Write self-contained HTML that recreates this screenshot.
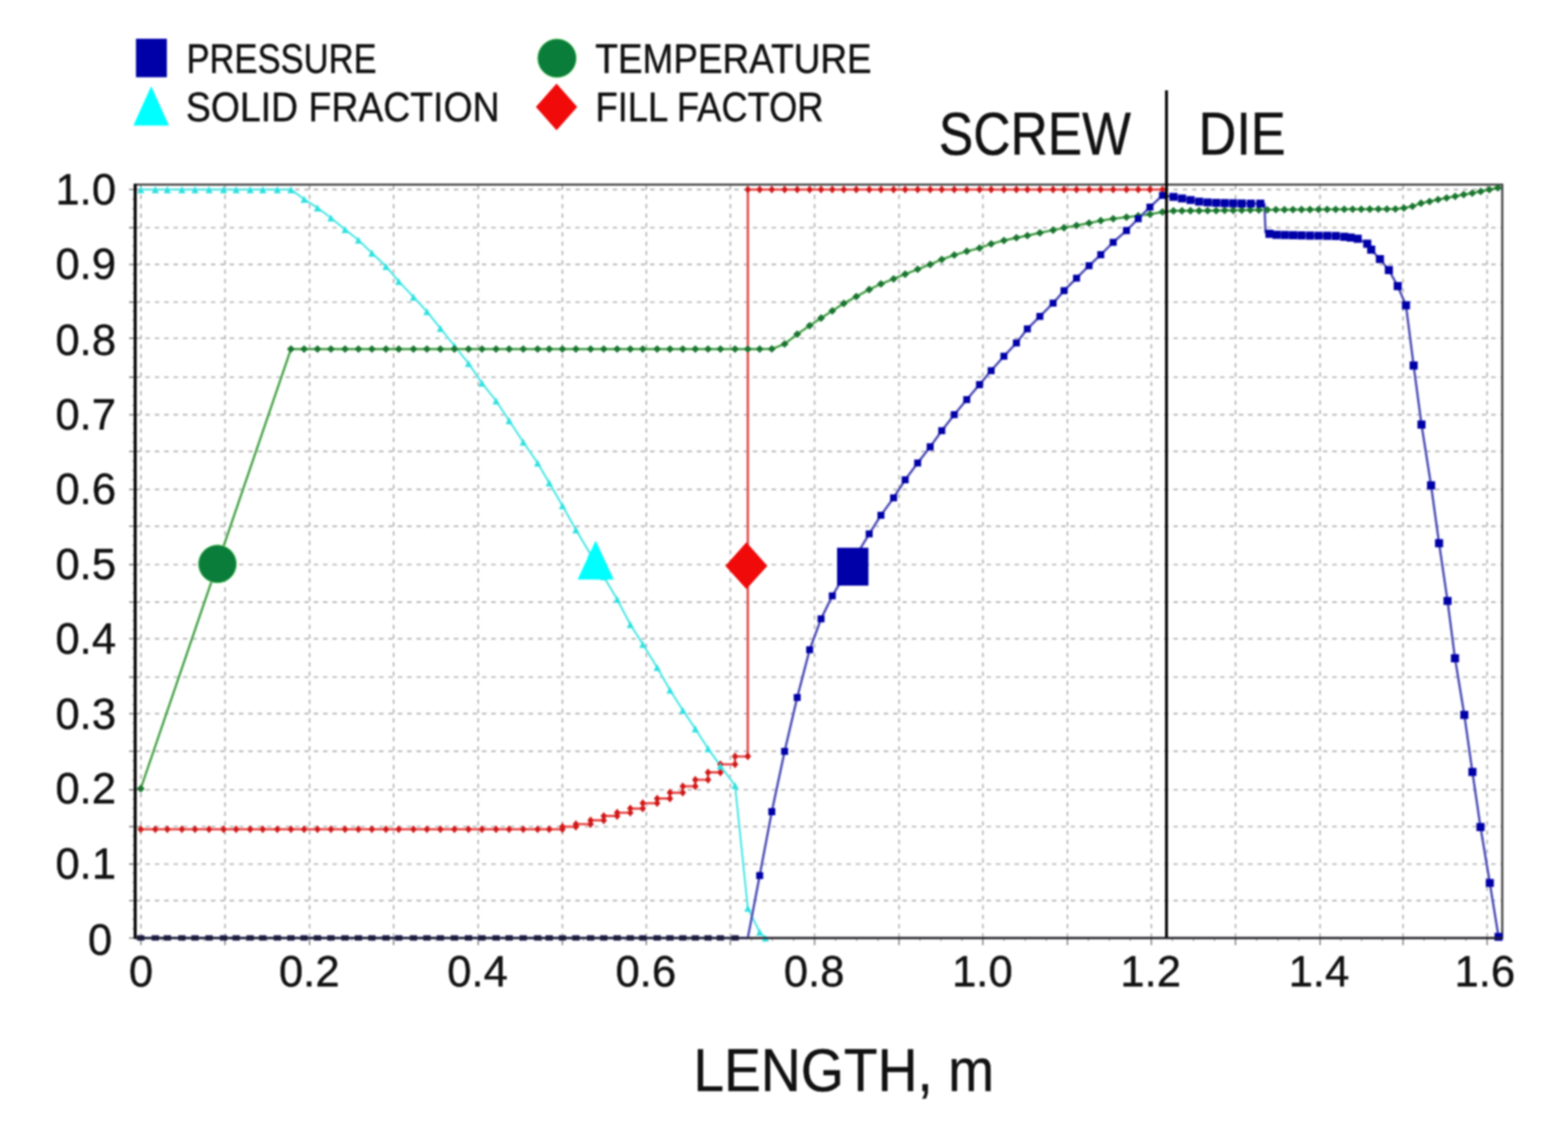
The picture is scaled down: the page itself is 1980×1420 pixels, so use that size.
<!DOCTYPE html><html><head><meta charset="utf-8"><style>html,body{margin:0;padding:0;background:#fff;}svg{display:block;filter:blur(1px);}text{font-family:"Liberation Sans",Arial,sans-serif;fill:#111;stroke:#111;stroke-width:0.5px;}</style></head><body>
<svg width="1980" height="1420" viewBox="0 0 1980 1420">
<rect x="0" y="0" width="1980" height="1420" fill="#fff"/>
<path d="M178.0 234V1183M284.2 234V1183M390.9 234V1183M497.1 234V1183M603.8 234V1183M710.2 234V1183M816.2 234V1183M922.3 234V1183M1028.6 234V1183M1135.3 234V1183M1241.2 234V1183M1347.9 234V1183M1453.8 234V1183M1560.2 234V1183M1666.9 234V1183M1771.7 234V1183M1877.8 234V1183M172 1136.7H1896M172 1090.6H1896M172 1043.4H1896M172 996.9H1896M172 948.2H1896M172 900.8H1896M172 854.6H1896M172 806.2H1896M172 760.0H1896M172 712.6H1896M172 664.2H1896M172 617.7H1896M172 569.7H1896M172 523.5H1896M172 476.1H1896M172 426.9H1896M172 381.4H1896M172 333.8H1896M172 287.4H1896M172 239.3H1896" stroke="#b0b0b0" stroke-width="1.9" stroke-dasharray="5.5 6.3" fill="none"/>
<path d="M163 1184.0H171M163 1136.7H171M163 1090.6H171M163 1043.4H171M163 996.9H171M163 948.2H171M163 900.8H171M163 854.6H171M163 806.2H171M163 760.0H171M163 712.6H171M163 664.2H171M163 617.7H171M163 569.7H171M163 523.5H171M163 476.1H171M163 426.9H171M163 381.4H171M163 333.8H171M163 287.4H171M163 239.3H171M178.0 1184V1193M284.2 1184V1193M390.9 1184V1193M497.1 1184V1193M603.8 1184V1193M710.2 1184V1193M816.2 1184V1193M922.3 1184V1193M1028.6 1184V1193M1135.3 1184V1193M1241.2 1184V1193M1347.9 1184V1193M1453.8 1184V1193M1560.2 1184V1193M1666.9 1184V1193M1771.7 1184V1193M1877.8 1184V1193" stroke="#777" stroke-width="1.6" fill="none"/>
<path d="M167 1172.2H171M167 1160.3H171M167 1148.5H171M167 1125.2H171M167 1113.7H171M167 1102.1H171M167 1078.8H171M167 1067.0H171M167 1055.2H171M167 1031.8H171M167 1020.2H171M167 1008.5H171M167 984.7H171M167 972.5H171M167 960.4H171M167 936.4H171M167 924.5H171M167 912.6H171M167 889.2H171M167 877.7H171M167 866.1H171M167 842.5H171M167 830.4H171M167 818.3H171M167 794.7H171M167 783.1H171M167 771.5H171M167 748.1H171M167 736.3H171M167 724.5H171M167 700.5H171M167 688.4H171M167 676.3H171M167 652.6H171M167 641.0H171M167 629.3H171M167 605.7H171M167 593.7H171M167 581.7H171M167 558.2H171M167 546.6H171M167 535.0H171M167 511.6H171M167 499.8H171M167 488.0H171M167 463.8H171M167 451.5H171M167 439.2H171M167 415.5H171M167 404.1H171M167 392.8H171M167 369.5H171M167 357.6H171M167 345.7H171M167 322.2H171M167 310.6H171M167 299.0H171M167 275.4H171M167 263.4H171M167 251.3H171M204.6 1184V1188M231.1 1184V1188M257.6 1184V1188M310.9 1184V1188M337.5 1184V1188M364.2 1184V1188M417.4 1184V1188M444.0 1184V1188M470.6 1184V1188M523.8 1184V1188M550.5 1184V1188M577.1 1184V1188M630.4 1184V1188M657.0 1184V1188M683.6 1184V1188M736.7 1184V1188M763.2 1184V1188M789.7 1184V1188M842.7 1184V1188M869.2 1184V1188M895.8 1184V1188M948.9 1184V1188M975.4 1184V1188M1002.0 1184V1188M1055.3 1184V1188M1081.9 1184V1188M1108.6 1184V1188M1161.8 1184V1188M1188.2 1184V1188M1214.7 1184V1188M1267.9 1184V1188M1294.6 1184V1188M1321.2 1184V1188M1374.4 1184V1188M1400.8 1184V1188M1427.3 1184V1188M1480.4 1184V1188M1507.0 1184V1188M1533.6 1184V1188M1586.9 1184V1188M1613.6 1184V1188M1640.2 1184V1188M1693.1 1184V1188M1719.3 1184V1188M1745.5 1184V1188M1798.2 1184V1188M1824.8 1184V1188M1851.3 1184V1188" stroke="#999" stroke-width="1.2" fill="none"/>
<path d="M170 233H1897V1184H170Z" stroke="#3a3a3a" stroke-width="2.6" fill="none"/>
<path d="M170.8 232V1185" stroke="#000" stroke-width="3.6" fill="none"/>
<defs><clipPath id="pc"><rect x="171" y="233" width="1726" height="951.2"/></clipPath></defs>
<g>
<polyline points="177.7,1046.7 196.1,1046.7 211.3,1046.7 229.7,1046.7 246.2,1046.7 264.0,1046.7 282.3,1046.7 298.2,1046.7 315.9,1046.7 331.8,1046.7 350.2,1046.7 367.4,1046.7 384.0,1046.7 400.9,1046.7 417.9,1046.7 435.7,1046.7 452.6,1046.7 469.6,1046.7 487.4,1046.7 503.5,1046.7 522.1,1046.7 539.1,1046.7 556.1,1046.7 573.8,1046.7 591.6,1046.7 608.6,1046.7 626.4,1046.7 642.9,1046.7 660.7,1046.7 678.9,1046.7 693.5,1046.7 710.2,1046.7 710.2,1043.5 727.2,1043.5 727.2,1040.3 745.8,1040.3 745.8,1035.4 762.4,1035.4 762.4,1029.9 779.3,1029.9 779.3,1025.8 795.9,1025.8 795.9,1020.6 811.7,1020.6 811.7,1013.8 829.8,1013.8 829.8,1007.9 846.0,1007.9 846.0,1000.6 862.2,1000.6 862.2,992.5 878.0,992.5 878.0,984.3 894.1,984.3 894.1,974.9 909.7,974.9 909.7,964.7 928.2,964.7 928.2,954.8 944.3,954.8 944.3,954.6 944.4,239.3 944.3,239.3 959.3,239.3 974.6,239.3 990.8,239.3 1006.7,239.3 1022.4,239.3 1036.8,239.3 1051.0,239.3 1065.5,239.3 1081.3,239.3 1097.6,239.3 1112.4,239.3 1128.4,239.3 1143.0,239.3 1158.8,239.3 1174.6,239.3 1189.2,239.3 1205.0,239.3 1220.8,239.3 1236.9,239.3 1251.6,239.3 1267.7,239.3 1283.5,239.3 1297.3,239.3 1313.1,239.3 1329.8,239.3 1343.6,239.3 1359.4,239.3 1375.2,239.3 1390.0,239.3 1405.7,239.3 1422.5,239.3 1437.3,239.3 1452.1,239.3 1467.9,239.3" fill="none" stroke="#ff9a9a" stroke-width="3.8" stroke-linejoin="round" opacity="0.8"/>
<polyline points="177.7,1046.7 196.1,1046.7 211.3,1046.7 229.7,1046.7 246.2,1046.7 264.0,1046.7 282.3,1046.7 298.2,1046.7 315.9,1046.7 331.8,1046.7 350.2,1046.7 367.4,1046.7 384.0,1046.7 400.9,1046.7 417.9,1046.7 435.7,1046.7 452.6,1046.7 469.6,1046.7 487.4,1046.7 503.5,1046.7 522.1,1046.7 539.1,1046.7 556.1,1046.7 573.8,1046.7 591.6,1046.7 608.6,1046.7 626.4,1046.7 642.9,1046.7 660.7,1046.7 678.9,1046.7 693.5,1046.7 710.2,1046.7 710.2,1043.5 727.2,1043.5 727.2,1040.3 745.8,1040.3 745.8,1035.4 762.4,1035.4 762.4,1029.9 779.3,1029.9 779.3,1025.8 795.9,1025.8 795.9,1020.6 811.7,1020.6 811.7,1013.8 829.8,1013.8 829.8,1007.9 846.0,1007.9 846.0,1000.6 862.2,1000.6 862.2,992.5 878.0,992.5 878.0,984.3 894.1,984.3 894.1,974.9 909.7,974.9 909.7,964.7 928.2,964.7 928.2,954.8 944.3,954.8 944.3,954.6 944.4,239.3 944.3,239.3 959.3,239.3 974.6,239.3 990.8,239.3 1006.7,239.3 1022.4,239.3 1036.8,239.3 1051.0,239.3 1065.5,239.3 1081.3,239.3 1097.6,239.3 1112.4,239.3 1128.4,239.3 1143.0,239.3 1158.8,239.3 1174.6,239.3 1189.2,239.3 1205.0,239.3 1220.8,239.3 1236.9,239.3 1251.6,239.3 1267.7,239.3 1283.5,239.3 1297.3,239.3 1313.1,239.3 1329.8,239.3 1343.6,239.3 1359.4,239.3 1375.2,239.3 1390.0,239.3 1405.7,239.3 1422.5,239.3 1437.3,239.3 1452.1,239.3 1467.9,239.3" fill="none" stroke="#d81818" stroke-width="1.6" stroke-linejoin="round"/>
<polyline points="177.7,239.3 196.1,239.3 211.3,239.3 229.7,239.3 246.2,239.3 264.0,239.3 282.3,239.3 298.2,239.3 315.9,239.3 331.8,239.3 350.2,239.3 367.4,239.3 384.0,251.3 400.9,262.3 417.9,275.0 435.7,289.6 452.6,303.0 469.6,319.3 487.4,336.1 503.5,355.2 522.1,374.8 539.1,393.2 556.1,414.4 573.8,436.4 591.6,458.6 608.6,483.5 626.4,505.9 642.9,530.8 660.7,557.8 678.9,584.4 693.5,609.3 710.2,638.2 727.2,668.6 745.8,699.9 762.4,727.8 779.3,756.4 795.9,788.2 811.7,813.1 829.8,842.4 846.0,870.9 862.2,896.4 878.0,919.8 894.1,944.8 909.7,966.7 928.2,991.4 944.3,1146.2 959.3,1176.5 966.5,1183.9" fill="none" stroke="#b8ffff" stroke-width="3.7" stroke-linejoin="round" opacity="0.8"/>
<polyline points="177.7,239.3 196.1,239.3 211.3,239.3 229.7,239.3 246.2,239.3 264.0,239.3 282.3,239.3 298.2,239.3 315.9,239.3 331.8,239.3 350.2,239.3 367.4,239.3 384.0,251.3 400.9,262.3 417.9,275.0 435.7,289.6 452.6,303.0 469.6,319.3 487.4,336.1 503.5,355.2 522.1,374.8 539.1,393.2 556.1,414.4 573.8,436.4 591.6,458.6 608.6,483.5 626.4,505.9 642.9,530.8 660.7,557.8 678.9,584.4 693.5,609.3 710.2,638.2 727.2,668.6 745.8,699.9 762.4,727.8 779.3,756.4 795.9,788.2 811.7,813.1 829.8,842.4 846.0,870.9 862.2,896.4 878.0,919.8 894.1,944.8 909.7,966.7 928.2,991.4 944.3,1146.2 959.3,1176.5 966.5,1183.9" fill="none" stroke="#2ad8d8" stroke-width="1.5" stroke-linejoin="round"/>
<polyline points="177.7,995.5 367.4,440.6 384.0,440.6 400.9,440.6 417.9,440.6 435.7,440.6 452.6,440.6 469.6,440.6 487.4,440.6 503.5,440.6 522.1,440.6 539.1,440.6 556.1,440.6 573.8,440.6 591.6,440.6 608.6,440.6 626.4,440.6 642.9,440.6 660.7,440.6 678.9,440.6 693.5,440.6 710.2,440.6 727.2,440.6 745.8,440.6 762.4,440.6 779.3,440.6 795.9,440.6 811.7,440.6 829.8,440.6 846.0,440.6 862.2,440.6 878.0,440.6 894.1,440.6 909.7,440.6 928.2,440.6 944.3,440.6 959.3,440.6 974.6,440.4 990.8,434.2 1006.7,421.8 1022.4,411.1 1036.8,401.5 1051.0,392.3 1065.5,383.0 1081.3,374.3 1097.6,365.5 1112.4,358.4 1128.4,352.1 1143.0,346.0 1158.8,339.9 1174.6,333.8 1189.2,327.6 1205.0,321.9 1220.8,317.2 1236.9,313.2 1251.6,307.8 1267.7,303.6 1283.5,300.1 1297.3,297.4 1313.1,293.9 1329.8,290.5 1343.6,287.5 1359.4,284.6 1375.2,281.6 1390.0,278.5 1405.7,276.1 1422.5,274.1 1437.3,272.5 1452.1,270.4 1467.9,267.6 1481.8,266.2 1492.5,266.1 1503.3,266.0 1514.1,266.0 1524.9,265.9 1535.7,265.8 1546.4,265.6 1557.2,265.5 1568.0,265.3 1578.8,265.1 1589.6,265.0 1600.3,264.8 1611.1,264.7 1621.9,264.7 1632.7,264.6 1643.5,264.5 1654.2,264.5 1665.0,264.4 1675.8,264.3 1686.6,264.3 1697.4,264.2 1708.1,264.1 1718.9,264.1 1729.7,264.0 1740.5,263.9 1751.3,263.9 1762.0,263.8 1772.8,262.6 1783.6,260.4 1794.4,256.5 1805.2,254.3 1815.9,251.9 1826.7,249.8 1837.5,247.8 1848.3,245.6 1859.1,243.8 1869.8,241.7 1880.6,239.4 1891.4,237.1" fill="none" stroke="#8fe08f" stroke-width="3.8" stroke-linejoin="round" opacity="0.8"/>
<polyline points="177.7,995.5 367.4,440.6 384.0,440.6 400.9,440.6 417.9,440.6 435.7,440.6 452.6,440.6 469.6,440.6 487.4,440.6 503.5,440.6 522.1,440.6 539.1,440.6 556.1,440.6 573.8,440.6 591.6,440.6 608.6,440.6 626.4,440.6 642.9,440.6 660.7,440.6 678.9,440.6 693.5,440.6 710.2,440.6 727.2,440.6 745.8,440.6 762.4,440.6 779.3,440.6 795.9,440.6 811.7,440.6 829.8,440.6 846.0,440.6 862.2,440.6 878.0,440.6 894.1,440.6 909.7,440.6 928.2,440.6 944.3,440.6 959.3,440.6 974.6,440.4 990.8,434.2 1006.7,421.8 1022.4,411.1 1036.8,401.5 1051.0,392.3 1065.5,383.0 1081.3,374.3 1097.6,365.5 1112.4,358.4 1128.4,352.1 1143.0,346.0 1158.8,339.9 1174.6,333.8 1189.2,327.6 1205.0,321.9 1220.8,317.2 1236.9,313.2 1251.6,307.8 1267.7,303.6 1283.5,300.1 1297.3,297.4 1313.1,293.9 1329.8,290.5 1343.6,287.5 1359.4,284.6 1375.2,281.6 1390.0,278.5 1405.7,276.1 1422.5,274.1 1437.3,272.5 1452.1,270.4 1467.9,267.6 1481.8,266.2 1492.5,266.1 1503.3,266.0 1514.1,266.0 1524.9,265.9 1535.7,265.8 1546.4,265.6 1557.2,265.5 1568.0,265.3 1578.8,265.1 1589.6,265.0 1600.3,264.8 1611.1,264.7 1621.9,264.7 1632.7,264.6 1643.5,264.5 1654.2,264.5 1665.0,264.4 1675.8,264.3 1686.6,264.3 1697.4,264.2 1708.1,264.1 1718.9,264.1 1729.7,264.0 1740.5,263.9 1751.3,263.9 1762.0,263.8 1772.8,262.6 1783.6,260.4 1794.4,256.5 1805.2,254.3 1815.9,251.9 1826.7,249.8 1837.5,247.8 1848.3,245.6 1859.1,243.8 1869.8,241.7 1880.6,239.4 1891.4,237.1" fill="none" stroke="#2e7d32" stroke-width="1.6" stroke-linejoin="round"/>
<polyline points="177.7,1183.9 196.1,1183.9 211.3,1183.9 229.7,1183.9 246.2,1183.9 264.0,1183.9 282.3,1183.9 298.2,1183.9 315.9,1183.9 331.8,1183.9 350.2,1183.9 367.4,1183.9 384.0,1183.9 400.9,1183.9 417.9,1183.9 435.7,1183.9 452.6,1183.9 469.6,1183.9 487.4,1183.9 503.5,1183.9 522.1,1183.9 539.1,1183.9 556.1,1183.9 573.8,1183.9 591.6,1183.9 608.6,1183.9 626.4,1183.9 642.9,1183.9 660.7,1183.9 678.9,1183.9 693.5,1183.9 710.2,1183.9 727.2,1183.9 745.8,1183.9 762.4,1183.9 779.3,1183.9 795.9,1183.9 811.7,1183.9 829.8,1183.9 846.0,1183.9 862.2,1183.9 878.0,1183.9 894.1,1183.9 909.7,1183.9 928.2,1183.9 944.3,1183.9 959.3,1105.2 974.6,1024.5 990.8,948.3 1006.7,880.3 1022.4,820.1 1036.8,781.2 1051.0,752.2 1065.5,727.6 1081.3,700.9 1097.6,673.9 1112.4,650.4 1128.4,628.3 1143.0,605.7 1158.8,584.3 1174.6,564.0 1189.2,543.7 1205.0,523.4 1220.8,504.3 1236.9,485.5 1251.6,467.8 1267.7,449.7 1283.5,432.9 1297.3,415.2 1313.1,399.4 1329.8,382.7 1343.6,366.9 1359.4,351.1 1375.2,335.3 1390.0,321.5 1405.7,305.8 1422.5,291.0 1437.3,276.2 1452.1,261.4 1467.9,246.6 1481.8,248.5 1492.6,250.5 1503.4,252.5 1514.2,254.5 1524.9,255.5 1535.7,256.0 1546.5,256.3 1557.3,256.6 1568.1,256.8 1579.5,257.0 1591.5,257.0 1596.8,257.5 1598.0,293.5 1603.0,295.2 1612.0,296.3 1622.5,296.6 1633.0,296.9 1643.5,297.2 1654.3,297.4 1665.1,297.5 1675.9,297.6 1686.7,297.8 1697.5,298.8 1705.5,299.8 1714.5,301.4 1726.5,307.6 1731.5,315.2 1742.5,327.0 1753.8,340.9 1765.0,361.2 1775.4,385.4 1785.1,461.4 1795.0,535.8 1807.1,612.6 1817.2,685.7 1827.9,758.5 1837.3,830.8 1849.1,902.4 1859.3,974.4 1869.5,1043.9 1881.3,1114.5 1892.3,1182.5" fill="none" stroke="#9a9af0" stroke-width="3.8" stroke-linejoin="round" opacity="0.8"/>
<polyline points="177.7,1183.9 196.1,1183.9 211.3,1183.9 229.7,1183.9 246.2,1183.9 264.0,1183.9 282.3,1183.9 298.2,1183.9 315.9,1183.9 331.8,1183.9 350.2,1183.9 367.4,1183.9 384.0,1183.9 400.9,1183.9 417.9,1183.9 435.7,1183.9 452.6,1183.9 469.6,1183.9 487.4,1183.9 503.5,1183.9 522.1,1183.9 539.1,1183.9 556.1,1183.9 573.8,1183.9 591.6,1183.9 608.6,1183.9 626.4,1183.9 642.9,1183.9 660.7,1183.9 678.9,1183.9 693.5,1183.9 710.2,1183.9 727.2,1183.9 745.8,1183.9 762.4,1183.9 779.3,1183.9 795.9,1183.9 811.7,1183.9 829.8,1183.9 846.0,1183.9 862.2,1183.9 878.0,1183.9 894.1,1183.9 909.7,1183.9 928.2,1183.9 944.3,1183.9 959.3,1105.2 974.6,1024.5 990.8,948.3 1006.7,880.3 1022.4,820.1 1036.8,781.2 1051.0,752.2 1065.5,727.6 1081.3,700.9 1097.6,673.9 1112.4,650.4 1128.4,628.3 1143.0,605.7 1158.8,584.3 1174.6,564.0 1189.2,543.7 1205.0,523.4 1220.8,504.3 1236.9,485.5 1251.6,467.8 1267.7,449.7 1283.5,432.9 1297.3,415.2 1313.1,399.4 1329.8,382.7 1343.6,366.9 1359.4,351.1 1375.2,335.3 1390.0,321.5 1405.7,305.8 1422.5,291.0 1437.3,276.2 1452.1,261.4 1467.9,246.6 1481.8,248.5 1492.6,250.5 1503.4,252.5 1514.2,254.5 1524.9,255.5 1535.7,256.0 1546.5,256.3 1557.3,256.6 1568.1,256.8 1579.5,257.0 1591.5,257.0 1596.8,257.5 1598.0,293.5 1603.0,295.2 1612.0,296.3 1622.5,296.6 1633.0,296.9 1643.5,297.2 1654.3,297.4 1665.1,297.5 1675.9,297.6 1686.7,297.8 1697.5,298.8 1705.5,299.8 1714.5,301.4 1726.5,307.6 1731.5,315.2 1742.5,327.0 1753.8,340.9 1765.0,361.2 1775.4,385.4 1785.1,461.4 1795.0,535.8 1807.1,612.6 1817.2,685.7 1827.9,758.5 1837.3,830.8 1849.1,902.4 1859.3,974.4 1869.5,1043.9 1881.3,1114.5 1892.3,1182.5" fill="none" stroke="#24248c" stroke-width="1.6" stroke-linejoin="round"/>
<path d="M177.7 1041.7L181.8 1046.7L177.7 1051.7L173.6 1046.7ZM196.1 1041.7L200.2 1046.7L196.1 1051.7L192.0 1046.7ZM211.3 1041.7L215.4 1046.7L211.3 1051.7L207.2 1046.7ZM229.7 1041.7L233.8 1046.7L229.7 1051.7L225.6 1046.7ZM246.2 1041.7L250.3 1046.7L246.2 1051.7L242.1 1046.7ZM264.0 1041.7L268.1 1046.7L264.0 1051.7L259.9 1046.7ZM282.3 1041.7L286.4 1046.7L282.3 1051.7L278.2 1046.7ZM298.2 1041.7L302.3 1046.7L298.2 1051.7L294.1 1046.7ZM315.9 1041.7L320.0 1046.7L315.9 1051.7L311.8 1046.7ZM331.8 1041.7L335.9 1046.7L331.8 1051.7L327.7 1046.7ZM350.2 1041.7L354.3 1046.7L350.2 1051.7L346.1 1046.7ZM367.4 1041.7L371.5 1046.7L367.4 1051.7L363.3 1046.7ZM384.0 1041.7L388.1 1046.7L384.0 1051.7L379.9 1046.7ZM400.9 1041.7L405.0 1046.7L400.9 1051.7L396.8 1046.7ZM417.9 1041.7L422.0 1046.7L417.9 1051.7L413.8 1046.7ZM435.7 1041.7L439.8 1046.7L435.7 1051.7L431.6 1046.7ZM452.6 1041.7L456.7 1046.7L452.6 1051.7L448.5 1046.7ZM469.6 1041.7L473.7 1046.7L469.6 1051.7L465.5 1046.7ZM487.4 1041.7L491.5 1046.7L487.4 1051.7L483.3 1046.7ZM503.5 1041.7L507.6 1046.7L503.5 1051.7L499.4 1046.7ZM522.1 1041.7L526.2 1046.7L522.1 1051.7L518.0 1046.7ZM539.1 1041.7L543.2 1046.7L539.1 1051.7L535.0 1046.7ZM556.1 1041.7L560.2 1046.7L556.1 1051.7L552.0 1046.7ZM573.8 1041.7L577.9 1046.7L573.8 1051.7L569.7 1046.7ZM591.6 1041.7L595.7 1046.7L591.6 1051.7L587.5 1046.7ZM608.6 1041.7L612.7 1046.7L608.6 1051.7L604.5 1046.7ZM626.4 1041.7L630.5 1046.7L626.4 1051.7L622.3 1046.7ZM642.9 1041.7L647.0 1046.7L642.9 1051.7L638.8 1046.7ZM660.7 1041.7L664.8 1046.7L660.7 1051.7L656.6 1046.7ZM678.9 1041.7L683.0 1046.7L678.9 1051.7L674.8 1046.7ZM693.5 1041.7L697.6 1046.7L693.5 1051.7L689.4 1046.7ZM710.2 1041.7L714.3 1046.7L710.2 1051.7L706.1 1046.7ZM710.2 1038.5L714.3 1043.5L710.2 1048.5L706.1 1043.5ZM727.2 1038.5L731.3 1043.5L727.2 1048.5L723.1 1043.5ZM727.2 1035.3L731.3 1040.3L727.2 1045.3L723.1 1040.3ZM745.8 1035.3L749.9 1040.3L745.8 1045.3L741.7 1040.3ZM745.8 1030.4L749.9 1035.4L745.8 1040.4L741.7 1035.4ZM762.4 1030.4L766.5 1035.4L762.4 1040.4L758.3 1035.4ZM762.4 1024.9L766.5 1029.9L762.4 1034.9L758.3 1029.9ZM779.3 1024.9L783.4 1029.9L779.3 1034.9L775.2 1029.9ZM779.3 1020.8L783.4 1025.8L779.3 1030.8L775.2 1025.8ZM795.9 1020.8L800.0 1025.8L795.9 1030.8L791.8 1025.8ZM795.9 1015.6L800.0 1020.6L795.9 1025.6L791.8 1020.6ZM811.7 1015.6L815.8 1020.6L811.7 1025.6L807.6 1020.6ZM811.7 1008.8L815.8 1013.8L811.7 1018.8L807.6 1013.8ZM829.8 1008.8L833.9 1013.8L829.8 1018.8L825.7 1013.8ZM829.8 1002.9L833.9 1007.9L829.8 1012.9L825.7 1007.9ZM846.0 1002.9L850.1 1007.9L846.0 1012.9L841.9 1007.9ZM846.0 995.6L850.1 1000.6L846.0 1005.6L841.9 1000.6ZM862.2 995.6L866.3 1000.6L862.2 1005.6L858.1 1000.6ZM862.2 987.5L866.3 992.5L862.2 997.5L858.1 992.5ZM878.0 987.5L882.1 992.5L878.0 997.5L873.9 992.5ZM878.0 979.3L882.1 984.3L878.0 989.3L873.9 984.3ZM894.1 979.3L898.2 984.3L894.1 989.3L890.0 984.3ZM894.1 969.9L898.2 974.9L894.1 979.9L890.0 974.9ZM909.7 969.9L913.8 974.9L909.7 979.9L905.6 974.9ZM909.7 959.7L913.8 964.7L909.7 969.7L905.6 964.7ZM928.2 959.7L932.3 964.7L928.2 969.7L924.1 964.7ZM928.2 949.8L932.3 954.8L928.2 959.8L924.1 954.8ZM944.3 949.8L948.4 954.8L944.3 959.8L940.2 954.8ZM944.3 949.6L948.4 954.6L944.3 959.6L940.2 954.6ZM944.3 234.3L948.4 239.3L944.3 244.3L940.2 239.3ZM959.3 234.3L963.4 239.3L959.3 244.3L955.2 239.3ZM974.6 234.3L978.7 239.3L974.6 244.3L970.5 239.3ZM990.8 234.3L994.9 239.3L990.8 244.3L986.7 239.3ZM1006.7 234.3L1010.8 239.3L1006.7 244.3L1002.6 239.3ZM1022.4 234.3L1026.5 239.3L1022.4 244.3L1018.3 239.3ZM1036.8 234.3L1040.9 239.3L1036.8 244.3L1032.7 239.3ZM1051.0 234.3L1055.1 239.3L1051.0 244.3L1046.9 239.3ZM1065.5 234.3L1069.6 239.3L1065.5 244.3L1061.4 239.3ZM1081.3 234.3L1085.4 239.3L1081.3 244.3L1077.2 239.3ZM1097.6 234.3L1101.7 239.3L1097.6 244.3L1093.5 239.3ZM1112.4 234.3L1116.5 239.3L1112.4 244.3L1108.3 239.3ZM1128.4 234.3L1132.5 239.3L1128.4 244.3L1124.3 239.3ZM1143.0 234.3L1147.1 239.3L1143.0 244.3L1138.9 239.3ZM1158.8 234.3L1162.9 239.3L1158.8 244.3L1154.7 239.3ZM1174.6 234.3L1178.7 239.3L1174.6 244.3L1170.5 239.3ZM1189.2 234.3L1193.3 239.3L1189.2 244.3L1185.1 239.3ZM1205.0 234.3L1209.1 239.3L1205.0 244.3L1200.9 239.3ZM1220.8 234.3L1224.9 239.3L1220.8 244.3L1216.7 239.3ZM1236.9 234.3L1241.0 239.3L1236.9 244.3L1232.8 239.3ZM1251.6 234.3L1255.7 239.3L1251.6 244.3L1247.5 239.3ZM1267.7 234.3L1271.8 239.3L1267.7 244.3L1263.6 239.3ZM1283.5 234.3L1287.6 239.3L1283.5 244.3L1279.4 239.3ZM1297.3 234.3L1301.4 239.3L1297.3 244.3L1293.2 239.3ZM1313.1 234.3L1317.2 239.3L1313.1 244.3L1309.0 239.3ZM1329.8 234.3L1333.9 239.3L1329.8 244.3L1325.7 239.3ZM1343.6 234.3L1347.7 239.3L1343.6 244.3L1339.5 239.3ZM1359.4 234.3L1363.5 239.3L1359.4 244.3L1355.3 239.3ZM1375.2 234.3L1379.3 239.3L1375.2 244.3L1371.1 239.3ZM1390.0 234.3L1394.1 239.3L1390.0 244.3L1385.9 239.3ZM1405.7 234.3L1409.8 239.3L1405.7 244.3L1401.6 239.3ZM1422.5 234.3L1426.6 239.3L1422.5 244.3L1418.4 239.3ZM1437.3 234.3L1441.4 239.3L1437.3 244.3L1433.2 239.3ZM1452.1 234.3L1456.2 239.3L1452.1 244.3L1448.0 239.3ZM1467.9 234.3L1472.0 239.3L1467.9 244.3L1463.8 239.3Z" fill="#d01818"/>
<path d="M177.7 235.1L182.2 243.9L173.2 243.9ZM196.1 235.1L200.6 243.9L191.6 243.9ZM211.3 235.1L215.8 243.9L206.8 243.9ZM229.7 235.1L234.2 243.9L225.2 243.9ZM246.2 235.1L250.7 243.9L241.7 243.9ZM264.0 235.1L268.5 243.9L259.5 243.9ZM282.3 235.1L286.8 243.9L277.8 243.9ZM298.2 235.1L302.7 243.9L293.7 243.9ZM315.9 235.1L320.4 243.9L311.4 243.9ZM331.8 235.1L336.3 243.9L327.3 243.9ZM350.2 235.1L354.7 243.9L345.7 243.9ZM367.4 235.1L371.9 243.9L362.9 243.9ZM384.0 247.1L388.5 255.9L379.5 255.9ZM400.9 258.1L405.4 266.9L396.4 266.9ZM417.9 270.8L422.4 279.6L413.4 279.6ZM435.7 285.4L440.2 294.2L431.2 294.2ZM452.6 298.8L457.1 307.6L448.1 307.6ZM469.6 315.1L474.1 323.9L465.1 323.9ZM487.4 331.9L491.9 340.7L482.9 340.7ZM503.5 351.0L508.0 359.8L499.0 359.8ZM522.1 370.6L526.6 379.4L517.6 379.4ZM539.1 389.0L543.6 397.8L534.6 397.8ZM556.1 410.2L560.6 419.0L551.6 419.0ZM573.8 432.2L578.3 441.0L569.3 441.0ZM591.6 454.4L596.1 463.2L587.1 463.2ZM608.6 479.3L613.1 488.1L604.1 488.1ZM626.4 501.7L630.9 510.5L621.9 510.5ZM642.9 526.6L647.4 535.4L638.4 535.4ZM660.7 553.6L665.2 562.4L656.2 562.4ZM678.9 580.2L683.4 589.0L674.4 589.0ZM693.5 605.1L698.0 613.9L689.0 613.9ZM710.2 634.0L714.7 642.8L705.7 642.8ZM727.2 664.4L731.7 673.2L722.7 673.2ZM745.8 695.7L750.3 704.5L741.3 704.5ZM762.4 723.6L766.9 732.4L757.9 732.4ZM779.3 752.2L783.8 761.0L774.8 761.0ZM795.9 784.0L800.4 792.8L791.4 792.8ZM811.7 808.9L816.2 817.7L807.2 817.7ZM829.8 838.2L834.3 847.0L825.3 847.0ZM846.0 866.7L850.5 875.5L841.5 875.5ZM862.2 892.2L866.7 901.0L857.7 901.0ZM878.0 915.6L882.5 924.4L873.5 924.4ZM894.1 940.6L898.6 949.4L889.6 949.4ZM909.7 962.5L914.2 971.3L905.2 971.3ZM928.2 987.2L932.7 996.0L923.7 996.0ZM944.3 1142.0L948.8 1150.8L939.8 1150.8ZM959.3 1172.3L963.8 1181.1L954.8 1181.1ZM966.5 1179.7L971.0 1188.5L962.0 1188.5Z" fill="#30e0e0"/>
<path d="M177.7 990.6L182.7 995.5L177.7 1000.4L172.7 995.5ZM367.4 435.7L372.4 440.6L367.4 445.5L362.4 440.6ZM384.0 435.7L389.0 440.6L384.0 445.5L379.0 440.6ZM400.9 435.7L405.9 440.6L400.9 445.5L395.9 440.6ZM417.9 435.7L422.9 440.6L417.9 445.5L412.9 440.6ZM435.7 435.7L440.7 440.6L435.7 445.5L430.7 440.6ZM452.6 435.7L457.6 440.6L452.6 445.5L447.6 440.6ZM469.6 435.7L474.6 440.6L469.6 445.5L464.6 440.6ZM487.4 435.7L492.4 440.6L487.4 445.5L482.4 440.6ZM503.5 435.7L508.5 440.6L503.5 445.5L498.5 440.6ZM522.1 435.7L527.1 440.6L522.1 445.5L517.1 440.6ZM539.1 435.7L544.1 440.6L539.1 445.5L534.1 440.6ZM556.1 435.7L561.1 440.6L556.1 445.5L551.1 440.6ZM573.8 435.7L578.8 440.6L573.8 445.5L568.8 440.6ZM591.6 435.7L596.6 440.6L591.6 445.5L586.6 440.6ZM608.6 435.7L613.6 440.6L608.6 445.5L603.6 440.6ZM626.4 435.7L631.4 440.6L626.4 445.5L621.4 440.6ZM642.9 435.7L647.9 440.6L642.9 445.5L637.9 440.6ZM660.7 435.7L665.7 440.6L660.7 445.5L655.7 440.6ZM678.9 435.7L683.9 440.6L678.9 445.5L673.9 440.6ZM693.5 435.7L698.5 440.6L693.5 445.5L688.5 440.6ZM710.2 435.7L715.2 440.6L710.2 445.5L705.2 440.6ZM727.2 435.7L732.2 440.6L727.2 445.5L722.2 440.6ZM745.8 435.7L750.8 440.6L745.8 445.5L740.8 440.6ZM762.4 435.7L767.4 440.6L762.4 445.5L757.4 440.6ZM779.3 435.7L784.3 440.6L779.3 445.5L774.3 440.6ZM795.9 435.7L800.9 440.6L795.9 445.5L790.9 440.6ZM811.7 435.7L816.7 440.6L811.7 445.5L806.7 440.6ZM829.8 435.7L834.8 440.6L829.8 445.5L824.8 440.6ZM846.0 435.7L851.0 440.6L846.0 445.5L841.0 440.6ZM862.2 435.7L867.2 440.6L862.2 445.5L857.2 440.6ZM878.0 435.7L883.0 440.6L878.0 445.5L873.0 440.6ZM894.1 435.7L899.1 440.6L894.1 445.5L889.1 440.6ZM909.7 435.7L914.7 440.6L909.7 445.5L904.7 440.6ZM928.2 435.7L933.2 440.6L928.2 445.5L923.2 440.6ZM944.3 435.7L949.3 440.6L944.3 445.5L939.3 440.6ZM959.3 435.7L964.3 440.6L959.3 445.5L954.3 440.6ZM974.6 435.5L979.6 440.4L974.6 445.3L969.6 440.4ZM990.8 429.3L995.8 434.2L990.8 439.1L985.8 434.2ZM1006.7 416.9L1011.7 421.8L1006.7 426.7L1001.7 421.8ZM1022.4 406.2L1027.4 411.1L1022.4 416.0L1017.4 411.1ZM1036.8 396.6L1041.8 401.5L1036.8 406.4L1031.8 401.5ZM1051.0 387.4L1056.0 392.3L1051.0 397.2L1046.0 392.3ZM1065.5 378.1L1070.5 383.0L1065.5 387.9L1060.5 383.0ZM1081.3 369.4L1086.3 374.3L1081.3 379.2L1076.3 374.3ZM1097.6 360.6L1102.6 365.5L1097.6 370.4L1092.6 365.5ZM1112.4 353.5L1117.4 358.4L1112.4 363.3L1107.4 358.4ZM1128.4 347.2L1133.4 352.1L1128.4 357.0L1123.4 352.1ZM1143.0 341.1L1148.0 346.0L1143.0 350.9L1138.0 346.0ZM1158.8 335.0L1163.8 339.9L1158.8 344.8L1153.8 339.9ZM1174.6 328.9L1179.6 333.8L1174.6 338.7L1169.6 333.8ZM1189.2 322.7L1194.2 327.6L1189.2 332.5L1184.2 327.6ZM1205.0 317.0L1210.0 321.9L1205.0 326.8L1200.0 321.9ZM1220.8 312.3L1225.8 317.2L1220.8 322.1L1215.8 317.2ZM1236.9 308.3L1241.9 313.2L1236.9 318.1L1231.9 313.2ZM1251.6 302.9L1256.6 307.8L1251.6 312.7L1246.6 307.8ZM1267.7 298.7L1272.7 303.6L1267.7 308.5L1262.7 303.6ZM1283.5 295.2L1288.5 300.1L1283.5 305.0L1278.5 300.1ZM1297.3 292.5L1302.3 297.4L1297.3 302.3L1292.3 297.4ZM1313.1 289.0L1318.1 293.9L1313.1 298.8L1308.1 293.9ZM1329.8 285.6L1334.8 290.5L1329.8 295.4L1324.8 290.5ZM1343.6 282.6L1348.6 287.5L1343.6 292.4L1338.6 287.5ZM1359.4 279.7L1364.4 284.6L1359.4 289.5L1354.4 284.6ZM1375.2 276.7L1380.2 281.6L1375.2 286.5L1370.2 281.6ZM1390.0 273.6L1395.0 278.5L1390.0 283.4L1385.0 278.5ZM1405.7 271.2L1410.7 276.1L1405.7 281.0L1400.7 276.1ZM1422.5 269.2L1427.5 274.1L1422.5 279.0L1417.5 274.1ZM1437.3 267.6L1442.3 272.5L1437.3 277.4L1432.3 272.5ZM1452.1 265.5L1457.1 270.4L1452.1 275.3L1447.1 270.4ZM1467.9 262.7L1472.9 267.6L1467.9 272.5L1462.9 267.6ZM1481.8 261.3L1486.8 266.2L1481.8 271.1L1476.8 266.2ZM1492.5 261.2L1497.5 266.1L1492.5 271.0L1487.5 266.1ZM1503.3 261.1L1508.3 266.0L1503.3 270.9L1498.3 266.0ZM1514.1 261.1L1519.1 266.0L1514.1 270.9L1509.1 266.0ZM1524.9 261.0L1529.9 265.9L1524.9 270.8L1519.9 265.9ZM1535.7 260.9L1540.7 265.8L1535.7 270.7L1530.7 265.8ZM1546.4 260.7L1551.4 265.6L1546.4 270.5L1541.4 265.6ZM1557.2 260.6L1562.2 265.5L1557.2 270.4L1552.2 265.5ZM1568.0 260.4L1573.0 265.3L1568.0 270.2L1563.0 265.3ZM1578.8 260.2L1583.8 265.1L1578.8 270.0L1573.8 265.1ZM1589.6 260.1L1594.6 265.0L1589.6 269.9L1584.6 265.0ZM1600.3 259.9L1605.3 264.8L1600.3 269.7L1595.3 264.8ZM1611.1 259.8L1616.1 264.7L1611.1 269.6L1606.1 264.7ZM1621.9 259.8L1626.9 264.7L1621.9 269.6L1616.9 264.7ZM1632.7 259.7L1637.7 264.6L1632.7 269.5L1627.7 264.6ZM1643.5 259.6L1648.5 264.5L1643.5 269.4L1638.5 264.5ZM1654.2 259.6L1659.2 264.5L1654.2 269.4L1649.2 264.5ZM1665.0 259.5L1670.0 264.4L1665.0 269.3L1660.0 264.4ZM1675.8 259.4L1680.8 264.3L1675.8 269.2L1670.8 264.3ZM1686.6 259.4L1691.6 264.3L1686.6 269.2L1681.6 264.3ZM1697.4 259.3L1702.4 264.2L1697.4 269.1L1692.4 264.2ZM1708.1 259.2L1713.1 264.1L1708.1 269.0L1703.1 264.1ZM1718.9 259.2L1723.9 264.1L1718.9 269.0L1713.9 264.1ZM1729.7 259.1L1734.7 264.0L1729.7 268.9L1724.7 264.0ZM1740.5 259.0L1745.5 263.9L1740.5 268.8L1735.5 263.9ZM1751.3 259.0L1756.3 263.9L1751.3 268.8L1746.3 263.9ZM1762.0 258.9L1767.0 263.8L1762.0 268.7L1757.0 263.8ZM1772.8 257.7L1777.8 262.6L1772.8 267.5L1767.8 262.6ZM1783.6 255.5L1788.6 260.4L1783.6 265.3L1778.6 260.4ZM1794.4 251.6L1799.4 256.5L1794.4 261.4L1789.4 256.5ZM1805.2 249.4L1810.2 254.3L1805.2 259.2L1800.2 254.3ZM1815.9 247.0L1820.9 251.9L1815.9 256.8L1810.9 251.9ZM1826.7 244.9L1831.7 249.8L1826.7 254.7L1821.7 249.8ZM1837.5 242.9L1842.5 247.8L1837.5 252.7L1832.5 247.8ZM1848.3 240.7L1853.3 245.6L1848.3 250.5L1843.3 245.6ZM1859.1 238.9L1864.1 243.8L1859.1 248.7L1854.1 243.8ZM1869.8 236.8L1874.8 241.7L1869.8 246.6L1864.8 241.7ZM1880.6 234.5L1885.6 239.4L1880.6 244.3L1875.6 239.4ZM1891.4 232.2L1896.4 237.1L1891.4 242.0L1886.4 237.1Z" fill="#1a7430"/>
<path d="M954.9 1100.8h8.8v8.8h-8.8ZM970.2 1020.1h8.8v8.8h-8.8ZM986.4 943.9h8.8v8.8h-8.8ZM1002.3 875.9h8.8v8.8h-8.8ZM1018.0 815.7h8.8v8.8h-8.8ZM1032.4 776.8h8.8v8.8h-8.8ZM1046.6 747.8h8.8v8.8h-8.8ZM1061.1 723.2h8.8v8.8h-8.8ZM1076.9 696.5h8.8v8.8h-8.8ZM1093.2 669.5h8.8v8.8h-8.8ZM1108.0 646.0h8.8v8.8h-8.8ZM1124.0 623.9h8.8v8.8h-8.8ZM1138.6 601.3h8.8v8.8h-8.8ZM1154.4 579.9h8.8v8.8h-8.8ZM1170.2 559.6h8.8v8.8h-8.8ZM1184.8 539.3h8.8v8.8h-8.8ZM1200.6 519.0h8.8v8.8h-8.8ZM1216.4 499.9h8.8v8.8h-8.8ZM1232.5 481.1h8.8v8.8h-8.8ZM1247.2 463.4h8.8v8.8h-8.8ZM1263.3 445.3h8.8v8.8h-8.8ZM1279.1 428.5h8.8v8.8h-8.8ZM1292.9 410.8h8.8v8.8h-8.8ZM1308.7 395.0h8.8v8.8h-8.8ZM1325.4 378.3h8.8v8.8h-8.8ZM1339.2 362.5h8.8v8.8h-8.8ZM1355.0 346.7h8.8v8.8h-8.8ZM1370.8 330.9h8.8v8.8h-8.8ZM1385.6 317.1h8.8v8.8h-8.8ZM1401.3 301.4h8.8v8.8h-8.8ZM1418.1 286.6h8.8v8.8h-8.8ZM1432.9 271.8h8.8v8.8h-8.8ZM1447.7 257.0h8.8v8.8h-8.8ZM1463.5 242.2h8.8v8.8h-8.8Z" fill="#0000a8"/>
<path d="M173.1 1180.5h9.2v6.8h-9.2ZM191.5 1180.5h9.2v6.8h-9.2ZM206.7 1180.5h9.2v6.8h-9.2ZM225.1 1180.5h9.2v6.8h-9.2ZM241.6 1180.5h9.2v6.8h-9.2ZM259.4 1180.5h9.2v6.8h-9.2ZM277.7 1180.5h9.2v6.8h-9.2ZM293.6 1180.5h9.2v6.8h-9.2ZM311.3 1180.5h9.2v6.8h-9.2ZM327.2 1180.5h9.2v6.8h-9.2ZM345.6 1180.5h9.2v6.8h-9.2ZM362.8 1180.5h9.2v6.8h-9.2ZM379.4 1180.5h9.2v6.8h-9.2ZM396.3 1180.5h9.2v6.8h-9.2ZM413.3 1180.5h9.2v6.8h-9.2ZM431.1 1180.5h9.2v6.8h-9.2ZM448.0 1180.5h9.2v6.8h-9.2ZM465.0 1180.5h9.2v6.8h-9.2ZM482.8 1180.5h9.2v6.8h-9.2ZM498.9 1180.5h9.2v6.8h-9.2ZM517.5 1180.5h9.2v6.8h-9.2ZM534.5 1180.5h9.2v6.8h-9.2ZM551.5 1180.5h9.2v6.8h-9.2ZM569.2 1180.5h9.2v6.8h-9.2ZM587.0 1180.5h9.2v6.8h-9.2ZM604.0 1180.5h9.2v6.8h-9.2ZM621.8 1180.5h9.2v6.8h-9.2ZM638.3 1180.5h9.2v6.8h-9.2ZM656.1 1180.5h9.2v6.8h-9.2ZM674.3 1180.5h9.2v6.8h-9.2ZM688.9 1180.5h9.2v6.8h-9.2ZM705.6 1180.5h9.2v6.8h-9.2ZM722.6 1180.5h9.2v6.8h-9.2ZM741.2 1180.5h9.2v6.8h-9.2ZM757.8 1180.5h9.2v6.8h-9.2ZM774.7 1180.5h9.2v6.8h-9.2ZM791.3 1180.5h9.2v6.8h-9.2ZM807.1 1180.5h9.2v6.8h-9.2ZM825.2 1180.5h9.2v6.8h-9.2ZM841.4 1180.5h9.2v6.8h-9.2ZM857.6 1180.5h9.2v6.8h-9.2ZM873.4 1180.5h9.2v6.8h-9.2ZM889.5 1180.5h9.2v6.8h-9.2ZM905.1 1180.5h9.2v6.8h-9.2ZM923.6 1180.5h9.2v6.8h-9.2Z" fill="#181850"/>
<path d="M1476.7 243.4h10.2v10.2h-10.2ZM1487.5 245.4h10.2v10.2h-10.2ZM1498.3 247.4h10.2v10.2h-10.2ZM1509.1 249.4h10.2v10.2h-10.2ZM1519.8 250.4h10.2v10.2h-10.2ZM1530.6 250.9h10.2v10.2h-10.2ZM1541.4 251.2h10.2v10.2h-10.2ZM1552.2 251.5h10.2v10.2h-10.2ZM1563.0 251.7h10.2v10.2h-10.2ZM1574.4 251.9h10.2v10.2h-10.2ZM1586.4 251.9h10.2v10.2h-10.2ZM1597.9 290.1h10.2v10.2h-10.2ZM1606.9 291.2h10.2v10.2h-10.2ZM1617.4 291.5h10.2v10.2h-10.2ZM1627.9 291.8h10.2v10.2h-10.2ZM1638.4 292.1h10.2v10.2h-10.2ZM1649.2 292.3h10.2v10.2h-10.2ZM1660.0 292.4h10.2v10.2h-10.2ZM1670.8 292.5h10.2v10.2h-10.2ZM1681.6 292.7h10.2v10.2h-10.2ZM1692.4 293.7h10.2v10.2h-10.2ZM1700.4 294.7h10.2v10.2h-10.2ZM1709.4 296.3h10.2v10.2h-10.2ZM1721.4 302.5h10.2v10.2h-10.2ZM1726.4 310.1h10.2v10.2h-10.2ZM1737.4 321.9h10.2v10.2h-10.2ZM1748.7 335.8h10.2v10.2h-10.2ZM1759.9 356.1h10.2v10.2h-10.2ZM1770.3 380.3h10.2v10.2h-10.2ZM1780.0 456.3h10.2v10.2h-10.2ZM1789.9 530.7h10.2v10.2h-10.2ZM1802.0 607.5h10.2v10.2h-10.2ZM1812.1 680.6h10.2v10.2h-10.2ZM1822.8 753.4h10.2v10.2h-10.2ZM1832.2 825.7h10.2v10.2h-10.2ZM1844.0 897.3h10.2v10.2h-10.2ZM1854.2 969.3h10.2v10.2h-10.2ZM1864.4 1038.8h10.2v10.2h-10.2ZM1876.2 1109.4h10.2v10.2h-10.2ZM1887.2 1177.4h10.2v10.2h-10.2Z" fill="#0000a8"/>
</g>
<path d="M171 1184H1897" stroke="#1c1c24" stroke-width="2.6" fill="none"/>
<circle cx="274.6" cy="711.8" r="24" fill="#0b7d3a" stroke="#6fd36f" stroke-width="1"/>
<path d="M752.2 682.2L775 731.6H729.4Z" fill="#0ff"/>
<path d="M942.5 684.6L969 714.2L942.5 743.6L916 714.2Z" fill="#f00a0a"/>
<rect x="1057" y="691.4" width="39.6" height="47.8" fill="#0000a8"/>
<rect x="171.7" y="48.9" width="39" height="48.6" fill="#0000a8"/>
<path d="M190.9 108.7L213.4 158.6H168.4Z" fill="#0ff"/>
<circle cx="703.3" cy="73.5" r="24.4" fill="#0b7d3a" stroke="#6fd36f" stroke-width="1"/>
<path d="M702.8 105.6L728.9 135L702.8 164.4L676.7 135Z" fill="#f00a0a"/>
<path d="M1473 114V1183" stroke="#000" stroke-width="3.6"/>
<text x="235.5" y="92.4" font-size="52.5" text-anchor="start" textLength="240.0" lengthAdjust="spacingAndGlyphs">PRESSURE</text>
<text x="234.8" y="152.8" font-size="52.5" text-anchor="start" textLength="396.0" lengthAdjust="spacingAndGlyphs">SOLID FRACTION</text>
<text x="751.7" y="91.6" font-size="52.5" text-anchor="start" textLength="349.0" lengthAdjust="spacingAndGlyphs">TEMPERATURE</text>
<text x="752.0" y="152.9" font-size="52.5" text-anchor="start" textLength="288.0" lengthAdjust="spacingAndGlyphs">FILL FACTOR</text>
<text x="1185.5" y="195.0" font-size="75.5" text-anchor="start" textLength="242.5" lengthAdjust="spacingAndGlyphs">SCREW</text>
<text x="1513.5" y="194.5" font-size="75.5" text-anchor="start" textLength="110.0" lengthAdjust="spacingAndGlyphs">DIE</text>
<text x="875.5" y="1377.4" font-size="75.5" text-anchor="start" textLength="380.0" lengthAdjust="spacingAndGlyphs">LENGTH, m</text>
<text x="146.5" y="257.5" font-size="55.0" text-anchor="end">1.0</text>
<text x="146.5" y="352.0" font-size="55.0" text-anchor="end">0.9</text>
<text x="146.5" y="447.5" font-size="55.0" text-anchor="end">0.8</text>
<text x="146.5" y="542.0" font-size="55.0" text-anchor="end">0.7</text>
<text x="146.5" y="636.0" font-size="55.0" text-anchor="end">0.6</text>
<text x="146.5" y="731.0" font-size="55.0" text-anchor="end">0.5</text>
<text x="146.5" y="825.0" font-size="55.0" text-anchor="end">0.4</text>
<text x="146.5" y="919.5" font-size="55.0" text-anchor="end">0.3</text>
<text x="146.5" y="1014.0" font-size="55.0" text-anchor="end">0.2</text>
<text x="146.5" y="1108.5" font-size="55.0" text-anchor="end">0.1</text>
<text x="141.5" y="1204.5" font-size="55.0" text-anchor="end">0</text>
<text x="178.0" y="1244.5" font-size="55.0" text-anchor="middle">0</text>
<text x="390.5" y="1244.5" font-size="55.0" text-anchor="middle">0.2</text>
<text x="603.0" y="1244.5" font-size="55.0" text-anchor="middle">0.4</text>
<text x="815.5" y="1244.5" font-size="55.0" text-anchor="middle">0.6</text>
<text x="1028.0" y="1244.5" font-size="55.0" text-anchor="middle">0.8</text>
<text x="1240.5" y="1244.5" font-size="55.0" text-anchor="middle">1.0</text>
<text x="1453.0" y="1244.5" font-size="55.0" text-anchor="middle">1.2</text>
<text x="1665.5" y="1244.5" font-size="55.0" text-anchor="middle">1.4</text>
<text x="1875.0" y="1244.5" font-size="55.0" text-anchor="middle">1.6</text>
</svg></body></html>
